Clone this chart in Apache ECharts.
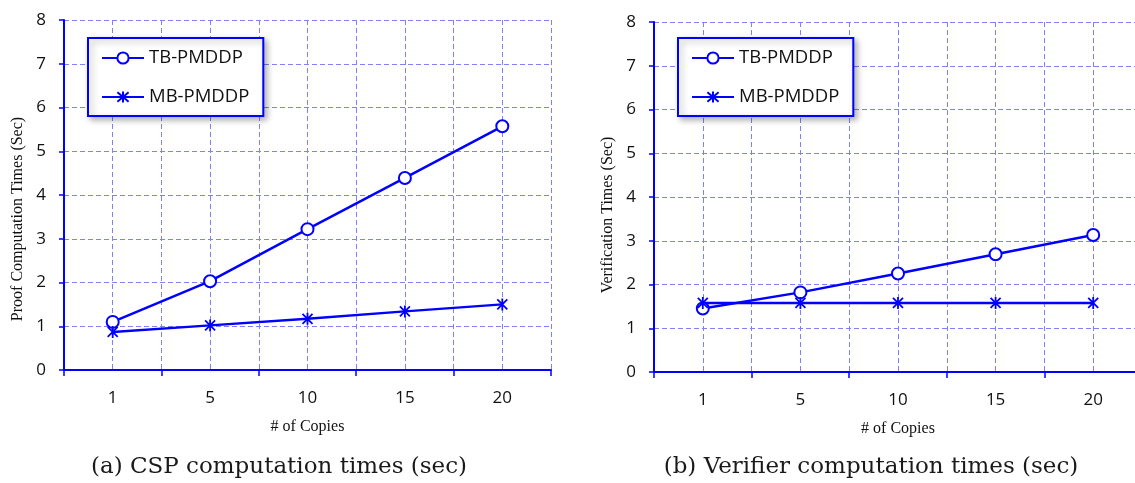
<!DOCTYPE html>
<html>
<head>
<meta charset="utf-8">
<script src="https://cdn.jsdelivr.net/npm/echarts@6/dist/echarts.min.js"></script>
<style>
  html, body { margin: 0; padding: 0; background: #fff; }
  #chart { width: 1135px; height: 483px; }
</style>
</head>
<body>
<div id="chart"></div>
<script>
// Number of file copies on the x axis
const copies = ['1', '5', '10', '15', '20'];
const seriesNames = ['TB-PMDDP', 'MB-PMDDP'];

// (a) CSP proof computation times (sec)
const cspTB = [1.10, 2.03, 3.22, 4.39, 5.57];
const cspMB = [0.87, 1.02, 1.17, 1.34, 1.50];

// (b) Verifier computation times (sec)
const verTB = [1.45, 1.82, 2.25, 2.69, 3.13];
const verMB = [1.58, 1.58, 1.58, 1.58, 1.58];

const yMin = 0, yMax = 8, yStep = 1;
const yNames = ['Proof Computation Times (Sec)', 'Verification Times (Sec)'];
const xName = '# of Copies';
const captions = ['(a) CSP computation times (sec)', '(b) Verifier computation times (sec)'];

const BLUE = '#0000ff';
const GRID_BLUE = '#8080ff';
const SANS = '"Open Sans", "Liberation Sans", sans-serif';
const SERIF = '"Liberation Serif", "DejaVu Serif", serif';
const CAPTION_SERIF = '"DejaVu Serif", "Liberation Serif", serif';
// asterisk marker: an X crossed by a vertical stroke
const STAR = 'path://M0,0L10,10M10,0L0,10M5,-1L5,11';

const grids = [
  { left: 64, top: 20, width: 487, height: 350, outerBoundsMode: 'none', containLabel: false },
  { left: 654, top: 22, width: 488, height: 350, outerBoundsMode: 'none', containLabel: false }
];
const legendLeft = [88, 678];
const captionX = [279, 871];
const yNameX = [18, 608];
const yNameY = [219, 215];

const dashed = { show: true, lineStyle: { color: GRID_BLUE, width: 1, type: [5, 3] } };

const xAxes = [], yAxes = [], legends = [], graphics = [];
grids.forEach((g, i) => {
  // labelled category axis: ticks on category boundaries
  xAxes.push({
    type: 'category', gridIndex: i, data: copies, boundaryGap: true,
    axisLine: { lineStyle: { color: BLUE, width: 2 } },
    axisTick: { show: true, length: 6, lineStyle: { color: BLUE, width: 1.5 } },
    axisLabel: { fontFamily: SANS, fontSize: 17, color: '#111', margin: 20 },
    splitLine: { show: false },
    name: xName, nameLocation: 'middle', nameGap: 49,
    nameTextStyle: { fontFamily: SERIF, fontSize: 16, color: '#111' }
  });
  // helper axis carrying the vertical dashed grid every half category
  xAxes.push({
    type: 'value', gridIndex: i, min: 0, max: copies.length * 2, interval: 1,
    axisLine: { show: false }, axisTick: { show: false }, axisLabel: { show: false },
    splitLine: dashed
  });
  yAxes.push({
    type: 'value', gridIndex: i, min: yMin, max: yMax, interval: yStep,
    axisLine: { show: true, lineStyle: { color: BLUE, width: 2 } },
    axisTick: { show: true, length: 5, lineStyle: { color: BLUE, width: 1.5 } },
    axisLabel: { fontFamily: SANS, fontSize: 17, color: '#111', margin: 18 },
    splitLine: dashed
  });
  legends.push({
    left: legendLeft[i], top: 38, orient: 'vertical', data: seriesNames,
    itemWidth: 42, itemHeight: 14, itemGap: 19, padding: [10, 14, 9, 13],
    backgroundColor: '#fff', borderColor: BLUE, borderWidth: 2, borderRadius: 0,
    shadowColor: 'rgba(0,0,0,0.3)', shadowBlur: 6, shadowOffsetX: 3, shadowOffsetY: 3,
    textStyle: { fontFamily: SANS, fontSize: 18.5, color: '#111', lineHeight: 20 },
    selectedMode: false
  });
  graphics.push({
    type: 'text', x: yNameX[i], y: yNameY[i], rotation: Math.PI / 2,
    style: { text: yNames[i], fontFamily: SERIF, fontSize: 16, fill: '#111',
             align: 'center', verticalAlign: 'middle' }
  });
  graphics.push({
    type: 'text', x: captionX[i], y: 467,
    style: { text: captions[i], fontFamily: CAPTION_SERIF, fontSize: 23, fill: '#1a1a1a',
             align: 'center', verticalAlign: 'middle' }
  });
});

function tbSeries(data, i) {
  return {
    name: seriesNames[0], type: 'line', xAxisIndex: i * 2, yAxisIndex: i, data,
    symbol: 'emptyCircle', symbolSize: 12,
    lineStyle: { color: BLUE, width: 2.5 },
    itemStyle: { color: BLUE, borderColor: BLUE, borderWidth: 1.5 }
  };
}
function mbSeries(data, i) {
  return {
    name: seriesNames[1], type: 'line', xAxisIndex: i * 2, yAxisIndex: i, data,
    symbol: STAR, symbolSize: 12, symbolKeepAspect: true,
    lineStyle: { color: BLUE, width: 2.5 },
    itemStyle: { color: BLUE, borderColor: BLUE, borderWidth: 1.8 }
  };
}

const chart = echarts.init(document.getElementById('chart'), null, { renderer: 'canvas' });
chart.setOption({
  animation: false,
  backgroundColor: '#fff',
  grid: grids,
  xAxis: xAxes,
  yAxis: yAxes,
  legend: legends,
  graphic: graphics,
  series: [
    tbSeries(cspTB, 0), mbSeries(cspMB, 0),
    tbSeries(verTB, 1), mbSeries(verMB, 1)
  ]
});
</script>
</body>
</html>
